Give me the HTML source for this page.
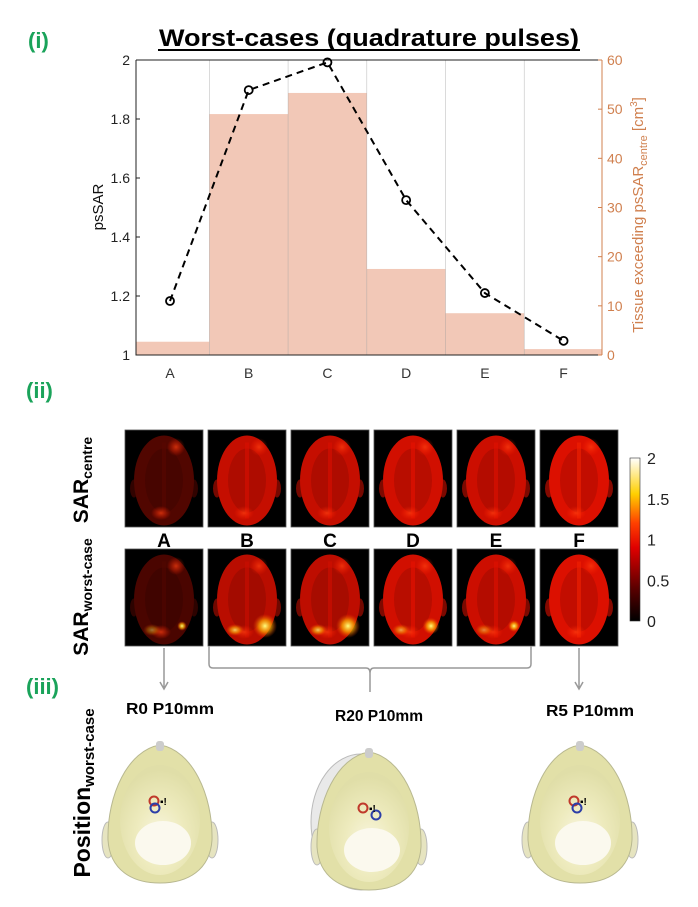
<!DOCTYPE html>
<html><head><meta charset="utf-8"><style>
html,body{margin:0;padding:0;background:#fff;}
svg{display:block;font-family:"Liberation Sans",sans-serif;}
</style></head><body>
<svg id="fig" width="698" height="907" viewBox="0 0 698 907">
<defs>
<linearGradient id="hotcb" x1="0" y1="1" x2="0" y2="0">
<stop offset="0" stop-color="#000"/><stop offset="0.2" stop-color="#5a0000"/><stop offset="0.45" stop-color="#e00000"/><stop offset="0.6" stop-color="#ff4000"/><stop offset="0.78" stop-color="#ffd000"/><stop offset="1" stop-color="#ffffff"/>
</linearGradient>
<radialGradient id="hotspot"><stop offset="0" stop-color="#ffff80" stop-opacity="1"/><stop offset="0.5" stop-color="#ffb000" stop-opacity="0.7"/><stop offset="1" stop-color="#ff4000" stop-opacity="0"/></radialGradient>
<radialGradient id="glow"><stop offset="0" stop-color="#ff4010" stop-opacity="0.7"/><stop offset="1" stop-color="#ff2000" stop-opacity="0"/></radialGradient>
<radialGradient id="headfill" cx="0.5" cy="0.65" r="0.6"><stop offset="0" stop-color="#fbf8e6"/><stop offset="0.5" stop-color="#efecc0"/><stop offset="1" stop-color="#e0dea8"/></radialGradient>
</defs>
<g id="chart"></g>
<g id="maps"></g>
<g id="pos"></g>
</svg>
<script>
const categories = ["A","B","C","D","E","F"];
const psSAR = [1.183, 1.898, 1.992, 1.525, 1.21, 1.048];
const tissueVolume = [2.7, 49, 53.3, 17.5, 8.5, 1.2];
const leftTicks = [1, 1.2, 1.4, 1.6, 1.8, 2];
const rightTicks = [0, 10, 20, 30, 40, 50, 60];
const centreLevel = [0.35, 0.85, 0.85, 0.9, 0.88, 0.95];
const worstLevel = [0.32, 0.8, 0.82, 0.9, 0.88, 0.95];
const worstHotspot = [0.4, 1.0, 1.0, 0.7, 0.5, 0];
const cbTicks = [0, 0.5, 1, 1.5, 2];

const NS = "http://www.w3.org/2000/svg";
function mk(tag, attrs, parent, txt){const e=document.createElementNS(NS,tag);for(const k in attrs)e.setAttribute(k,attrs[k]);if(txt!==undefined)e.textContent=txt;parent.appendChild(e);return e;}

const L=136,R=602,T=60,B=355;
const step=(R-L)/5.92;
function xC(i){return 170+step*i;}
function yL(v){return B-(v-1)/(2-1)*(B-T);}
function yR(v){return B-v/60*(B-T);}
const ORANGE="#d0804f";
const chart=document.getElementById('chart');

let t=mk('text',{x:28,y:48,'font-size':22,'font-weight':'bold',fill:'#1aa35a'},chart,'(i)');


t=mk('text',{x:369,y:46,'text-anchor':'middle','font-size':24,'font-weight':'bold',textLength:420,lengthAdjust:'spacingAndGlyphs'},chart,'Worst-cases (quadrature pulses)');


let ln=mk('line',{x1:158,x2:580,y1:50,y2:50,stroke:'#000','stroke-width':2},chart);



categories.forEach((c,i)=>{
  const x0=Math.max(L,xC(i)-step/2), x1=Math.min(R,xC(i)+step/2);
  const r=mk('rect',{x:x0,y:yR(tissueVolume[i]),width:x1-x0,height:B-yR(tissueVolume[i]),fill:'#f2c8b7'},chart);
  
  
});
for(let i=0;i<5;i++){
  const g=mk('line',{x1:xC(i)+step/2,x2:xC(i)+step/2,y1:T,y2:B,stroke:'#999','stroke-width':0.6,'stroke-opacity':0.6},chart);
  
  
}
let ax=mk('path',{d:`M${L},${T}H${R}M${L},${T}V${B}H${R}`,fill:'none',stroke:'#222','stroke-width':1},chart);


let ar=mk('line',{x1:R,x2:R,y1:T,y2:B,stroke:ORANGE,'stroke-width':1},chart);


leftTicks.forEach(v=>{
  const y=yL(v);
  mk('line',{x1:L,x2:L+4,y1:y,y2:y,stroke:'#222'},chart);
  const tt=mk('text',{x:L-6,y:y+5,'text-anchor':'end','font-size':14,fill:'#222'},chart,String(v));
  
  
});
rightTicks.forEach(v=>{
  const y=yR(v);
  mk('line',{x1:R-4,x2:R,y1:y,y2:y,stroke:ORANGE},chart);
  const tt=mk('text',{x:R+5,y:y+5,'font-size':14,fill:ORANGE},chart,String(v));
  
  
});
categories.forEach((c,i)=>{
  const tt=mk('text',{x:xC(i),y:B+23,'text-anchor':'middle','font-size':14,fill:'#333'},chart,c);
  
  
});
t=mk('text',{x:0,y:0,'font-size':15,'text-anchor':'middle',transform:`translate(103,207) rotate(-90)`,fill:'#111'},chart,'psSAR');


t=mk('text',{x:0,y:0,'font-size':15,'text-anchor':'middle',transform:`translate(643,215) rotate(-90)`,fill:ORANGE},chart);


mk('tspan',{},t,'Tissue exceeding psSAR');
mk('tspan',{'font-size':11,dy:4},t,'centre');
mk('tspan',{dy:-4},t,' [cm');
mk('tspan',{'font-size':10,dy:-6},t,'3');
mk('tspan',{dy:6},t,']');
let d=psSAR.map((v,i)=>(i?'L':'M')+xC(i)+','+yL(v)).join('');
let pl=mk('path',{d:d,fill:'none',stroke:'#000','stroke-width':2,'stroke-dasharray':'7,5'},chart);


psSAR.forEach((v,i)=>{
  const c=mk('circle',{cx:xC(i),cy:yL(v),r:4,fill:'none',stroke:'#000','stroke-width':1.8},chart);
  
  
});

const maps=document.getElementById('maps');
t=mk('text',{x:26,y:398,'font-size':22,'font-weight':'bold',fill:'#1aa35a'},maps,'(ii)');


function hot(v){
  const f=Math.max(0,Math.min(1,v/2));
  const r=Math.min(1,f/0.55), g=Math.max(0,Math.min(1,(f-0.5)/0.3)), b=Math.max(0,(f-0.8)/0.2);
  return `rgb(${Math.round(r*255)},${Math.round(g*220+r*18)},${Math.round(b*255)})`;
}
function panel(i,y0,level,hs,row){
  const x0=125+83*i,w=78,h=97;
  const g=mk('g',{},maps);
  
  
  mk('rect',{x:x0,y:y0,width:w,height:h,fill:'#000',stroke:'#555','stroke-width':0.8},g);
  const cx=x0+w/2, cy=y0+h/2+2;
  mk('ellipse',{cx:cx-30,cy:cy+8,rx:4,ry:9,fill:hot(level*0.6)},g);
  mk('ellipse',{cx:cx+30,cy:cy+8,rx:4,ry:9,fill:hot(level*0.6)},g);
  mk('ellipse',{cx:cx,cy:cy,rx:30,ry:45,fill:hot(level)},g);
  mk('ellipse',{cx:cx,cy:cy,rx:19,ry:32,fill:hot(level*0.8),opacity:0.6},g);
  mk('rect',{x:cx-2,y:cy-38,width:4,height:76,fill:hot(level*1.1),opacity:0.6},g);
  mk('ellipse',{cx:cx+12,cy:y0+17,rx:9,ry:9,fill:'url(#glow)'},g);
  mk('ellipse',{cx:cx-3,cy:y0+h-14,rx:10,ry:7,fill:'url(#glow)'},g);
  if(hs>0){
    mk('ellipse',{cx:cx+18,cy:y0+h-20,rx:12*hs,ry:12*hs,fill:'url(#hotspot)'},g);
    mk('ellipse',{cx:cx-12,cy:y0+h-16,rx:9,ry:6,fill:'url(#hotspot)',opacity:0.6*hs+0.2},g);
  }
}
categories.forEach((c,i)=>{
  panel(i,430,centreLevel[i],0,'centre');
  panel(i,549,worstLevel[i],worstHotspot[i],'worst');
  const tt=mk('text',{x:125+83*i+39,y:547,'text-anchor':'middle','font-size':19,'font-weight':'bold'},maps,c);
  
  
});
t=mk('text',{x:0,y:0,'font-size':21,'font-weight':'bold','text-anchor':'middle',transform:'translate(88,480) rotate(-90)'},maps);


mk('tspan',{},t,'SAR');mk('tspan',{'font-size':14,dy:4},t,'centre');
t=mk('text',{x:0,y:0,'font-size':21,'font-weight':'bold','text-anchor':'middle',transform:'translate(88,597) rotate(-90)'},maps);


mk('tspan',{},t,'SAR');mk('tspan',{'font-size':14,dy:4},t,'worst-case');
const cbT=458,cbB=621;
let cb=mk('rect',{x:630,y:cbT,width:10,height:cbB-cbT,fill:'url(#hotcb)',stroke:'#333','stroke-width':0.6},maps);


cbTicks.forEach(v=>{
  const y=cbB-v/2*(cbB-cbT);
  const tt=mk('text',{x:647,y:y+6,'font-size':16,fill:'#222'},maps,String(v));
  
  
});
const arrowStyle={stroke:'#999','stroke-width':1.5,fill:'none'};
[164,579].forEach(x=>{
  const a=mk('path',Object.assign({d:`M${x},648V688M${x-4},682L${x},689L${x+4},682`},arrowStyle),maps);
  
  
});
let br=mk('path',Object.assign({d:'M209,646V664Q209,668 213,668H366Q370,668 370,673V692M370,673Q370,668 374,668H527Q531,668 531,664V646'},arrowStyle),maps);



const pos=document.getElementById('pos');
t=mk('text',{x:26,y:694,'font-size':22,'font-weight':'bold',fill:'#1aa35a'},pos,'(iii)');


t=mk('text',{x:0,y:0,'font-size':23,'font-weight':'bold','text-anchor':'middle',transform:'translate(90,793) rotate(-90)'},pos);


mk('tspan',{},t,'Position');mk('tspan',{'font-size':15,dy:4},t,'worst-case');
[["R0 P10mm",170,714],["R20 P10mm",379,721],["R5 P10mm",590,716]].forEach(l=>{
  const tt=mk('text',{x:l[1],y:l[2],'text-anchor':'middle','font-size':16,'font-weight':'bold',textLength:88,lengthAdjust:'spacingAndGlyphs'},pos,l[0]);
  
  
});
function head(cx,top,ghost,name,o2){
  const g=mk('g',{},pos);
  
  
  if(ghost) mk('ellipse',{cx:cx-8,cy:top+70,rx:50,ry:68,fill:'#e4e4e4',stroke:'#aaa','stroke-width':1,opacity:0.8},g);
  mk('ellipse',{cx:cx-52,cy:top+95,rx:6,ry:18,fill:'#e6e4c0',stroke:'#bbb'},g);
  mk('ellipse',{cx:cx+52,cy:top+95,rx:6,ry:18,fill:'#e6e4c0',stroke:'#bbb'},g);
  mk('path',{d:`M${cx},${top} C${cx+32},${top+5} ${cx+53},${top+50} ${cx+52},${top+95} C${cx+50},${top+125} ${cx+28},${top+138} ${cx},${top+138} C${cx-28},${top+138} ${cx-50},${top+125} ${cx-52},${top+95} C${cx-53},${top+50} ${cx-32},${top+5} ${cx},${top}Z`,fill:'#e2e0a8',stroke:'#b8b890','stroke-width':1},g);
  mk('ellipse',{cx:cx,cy:top+75,rx:40,ry:55,fill:'url(#headfill)',opacity:0.9},g);
  mk('ellipse',{cx:cx+3,cy:top+98,rx:28,ry:22,fill:'#fbf9ee'},g);
  mk('rect',{x:cx-4,y:top-4,width:8,height:10,fill:'#ccc',rx:3},g);
  mk('circle',{cx:cx-6,cy:top+56,r:4.5,fill:'none',stroke:'#c0392b','stroke-width':2},g);
  mk('circle',{cx:cx-5+o2,cy:top+63,r:4.5,fill:'none',stroke:'#2c3ea8','stroke-width':2},g);
  mk('text',{x:cx,y:top+60,'font-size':10,'font-weight':'bold'},g,'▪!');
}
head(160,745,false,'head-position-A',0);
head(369,752,true,'head-position-B-E',12);
head(580,745,false,'head-position-F',2);
</script>
</body></html>
